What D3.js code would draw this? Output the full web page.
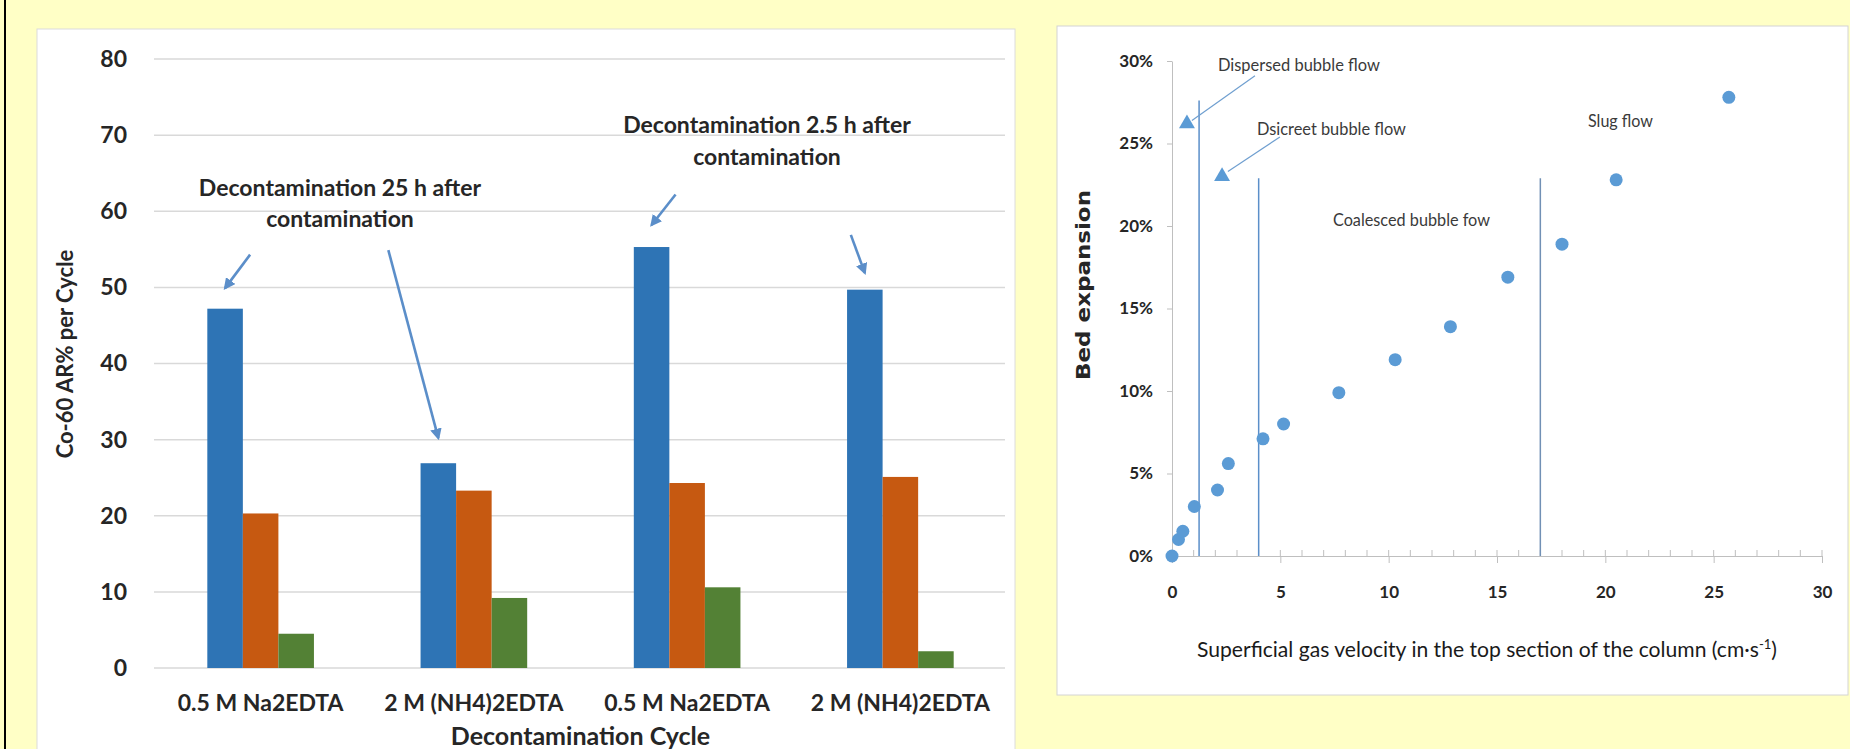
<!DOCTYPE html>
<html>
<head>
<meta charset="utf-8">
<script src="https://cdn.jsdelivr.net/npm/d3@7"></script>
<style>
  html, body { margin: 0; padding: 0; background: #ffffc6; }
  svg { display: block; }
</style>
</head>
<body>
<svg id="chart" width="1850" height="749"></svg>
<script>
// bar chart data
const categories = ["0.5 M Na2EDTA", "2 M (NH4)2EDTA", "0.5 M Na2EDTA", "2 M (NH4)2EDTA"];
const cycle1 = [47.2, 26.9, 55.3, 49.7];
const cycle2 = [20.3, 23.3, 24.3, 25.1];
const cycle3 = [4.5, 9.2, 10.6, 2.2];
const barTicks = [0, 10, 20, 30, 40, 50, 60, 70, 80];

// scatter data
const velocity = [0, 0.3, 0.5, 1.03, 2.1, 2.6, 4.2, 5.15, 7.7, 10.3, 12.85, 15.5, 18.0, 20.5, 25.7];
const expansion = [0, 0.010, 0.015, 0.030, 0.040, 0.056, 0.071, 0.080, 0.099, 0.119, 0.139, 0.169, 0.189, 0.228, 0.278];
const regimeBounds = [1.25, 4.0, 17.0];
const regimeTops = [0.276, 0.229, 0.229];
const xTicks = [0, 5, 10, 15, 20, 25, 30];
const yTicks = [0, 0.05, 0.10, 0.15, 0.20, 0.25, 0.30];

const BLUE = "#2e74b5";
const ORANGE = "#c65911";
const GREEN = "#538135";
const ARROW = "#5b8ec9";
const DOT = "#5b9bd5";
const BOLD_FONT = "Lato, 'Open Sans', sans-serif";

const svg = d3.select("#chart");

// backgrounds
svg.append("line")
  .attr("x1", 5).attr("x2", 5).attr("y1", 0).attr("y2", 749)
  .attr("stroke", "#000").attr("stroke-width", 2);

svg.append("rect")
  .attr("x", 37).attr("y", 29).attr("width", 978).attr("height", 740)
  .attr("fill", "#fff").attr("stroke", "#dcdcdc");

svg.append("rect")
  .attr("x", 1057).attr("y", 26).attr("width", 791).attr("height", 669)
  .attr("fill", "#fff").attr("stroke", "#d4d4d4");

svg.append("defs").append("marker")
  .attr("id", "arrowhead")
  .attr("viewBox", "0 0 10 10")
  .attr("refX", 8).attr("refY", 5)
  .attr("markerWidth", 4.5).attr("markerHeight", 4.5)
  .attr("orient", "auto")
  .append("path")
  .attr("d", "M0,0 L10,5 L0,10 z")
  .attr("fill", ARROW);

const renderBarChart = () => {
  const left = 154, right = 1007;
  const x0 = d3.scaleBand()
    .domain(d3.range(categories.length))
    .range([left, right])
    .paddingInner(0.5)
    .paddingOuter(0.25);
  const x1 = d3.scaleBand().domain([0, 1, 2]).range([0, x0.bandwidth()]);
  const y = d3.scaleLinear().domain([0, 80]).range([668, 59]);

  const g = svg.append("g");

  // grid
  g.selectAll(".grid")
    .data(barTicks)
    .join("line")
    .attr("x1", left).attr("x2", 1005)
    .attr("y1", (d) => y(d)).attr("y2", (d) => y(d))
    .attr("stroke", "#d9d9d9").attr("stroke-width", 1.5);

  const yAxis = g.append("g")
    .attr("transform", `translate(${left},0)`)
    .call(d3.axisLeft(y).tickValues(barTicks).tickSize(0).tickPadding(27));
  yAxis.select(".domain").remove();
  yAxis.selectAll("text")
    .attr("font-family", BOLD_FONT).attr("font-weight", "bold")
    .attr("font-size", 23).attr("fill", "#262626");

  const series = [cycle1, cycle2, cycle3];
  const colors = [BLUE, ORANGE, GREEN];

  const groups = g.selectAll(".grp")
    .data(categories)
    .join("g")
    .attr("transform", (d, i) => `translate(${x0(i)},0)`);

  groups.selectAll("rect")
    .data((d, i) => series.map((s, k) => ({ k, v: s[i] })))
    .join("rect")
    .attr("x", (d) => x1(d.k))
    .attr("width", x1.bandwidth())
    .attr("y", (d) => y(d.v))
    .attr("height", (d) => y(0) - y(d.v))
    .attr("fill", (d) => colors[d.k]);

  g.selectAll(".xlab")
    .data(categories)
    .join("text")
    .attr("x", (d, i) => x0(i) + x0.bandwidth() / 2)
    .attr("y", 703)
    .attr("dy", "0.35em")
    .attr("text-anchor", "middle")
    .attr("font-family", BOLD_FONT).attr("font-weight", "bold")
    .attr("font-size", 23).attr("fill", "#262626")
    .text((d) => d);

  g.append("text")
    .attr("x", (left + right) / 2)
    .attr("y", 736)
    .attr("dy", "0.35em")
    .attr("text-anchor", "middle")
    .attr("font-family", BOLD_FONT).attr("font-weight", "bold")
    .attr("font-size", 25).attr("fill", "#262626")
    .text("Decontamination Cycle");

  g.append("text")
    .attr("transform", "translate(65,354) rotate(-90)")
    .attr("dy", "0.35em")
    .attr("text-anchor", "middle")
    .attr("font-family", BOLD_FONT).attr("font-weight", "bold")
    .attr("font-size", 22).attr("fill", "#262626")
    .text("Co-60 AR% per Cycle");

  // annotations
  const notes = [
    { lines: ["Decontamination 25 h after", "contamination"], cx: 340, v: [63.1, 59.0] },
    { lines: ["Decontamination 2.5 h after", "contamination"], cx: 767, v: [71.4, 67.1] },
  ];
  notes.forEach((n) => {
    n.lines.forEach((t, j) => {
      g.append("text")
        .attr("x", n.cx).attr("y", y(n.v[j]))
        .attr("dy", "0.35em")
        .attr("text-anchor", "middle")
        .attr("font-family", BOLD_FONT).attr("font-weight", "bold")
        .attr("font-size", 23).attr("fill", "#262626")
        .text(t);
    });
  });

  const blueCenter = (i) => x0(i) + x1(0) + x1.bandwidth() / 2;
  const arrows = [
    { i: 0, dx: 25, from: 54.3, to: 49.9 },
    { i: 1, dx: -50, from: 54.9, to: 30.2 },
    { i: 2, dx: 24, from: 62.2, to: 58.2 },
    { i: 3, dx: -14, from: 56.9, to: 51.9 },
  ];
  g.selectAll(".arrow")
    .data(arrows)
    .join("line")
    .attr("x1", (d) => blueCenter(d.i) + d.dx)
    .attr("y1", (d) => y(d.from))
    .attr("x2", (d) => blueCenter(d.i))
    .attr("y2", (d) => y(d.to))
    .attr("stroke", ARROW).attr("stroke-width", 2.6)
    .attr("marker-end", "url(#arrowhead)");
};

const renderScatter = () => {
  const sx = d3.scaleLinear().domain([0, 30]).range([1172, 1822]);
  const sy = d3.scaleLinear().domain([0, 0.30]).range([556, 61]);
  const g = svg.append("g");
  const axisColor = "#bfbfbf";

  const yAxis = g.append("g")
    .attr("transform", `translate(${sx(0)},0)`)
    .call(d3.axisLeft(sy).tickValues(yTicks).tickFormat(d3.format(".0%"))
      .tickSize(5).tickSizeOuter(0).tickPadding(14));
  yAxis.selectAll("line, path").attr("stroke", axisColor);
  yAxis.selectAll("text")
    .attr("font-family", BOLD_FONT).attr("font-weight", "bold")
    .attr("font-size", 17).attr("fill", "#262626");

  // minor ticks above the axis
  g.selectAll(".minor")
    .data(d3.range(0, 31))
    .join("line")
    .attr("x1", (d) => sx(d)).attr("x2", (d) => sx(d))
    .attr("y1", sy(0) - 6).attr("y2", sy(0))
    .attr("stroke", axisColor);

  const xAxis = g.append("g")
    .attr("transform", `translate(0,${sy(0)})`)
    .call(d3.axisBottom(sx).tickValues(xTicks).tickSize(7).tickSizeOuter(0));
  xAxis.selectAll("line, path").attr("stroke", axisColor);
  xAxis.selectAll("text")
    .attr("y", 36).attr("dy", "0.35em")
    .attr("font-family", BOLD_FONT).attr("font-weight", "bold")
    .attr("font-size", 17).attr("fill", "#262626");

  // flow regime boundaries
  g.selectAll(".bound")
    .data(regimeBounds)
    .join("line")
    .attr("x1", (d) => sx(d)).attr("x2", (d) => sx(d))
    .attr("y1", sy(0)).attr("y2", (d, i) => sy(regimeTops[i]))
    .attr("stroke", (d, i) => (i === 2 ? "#7190b5" : "#5b8fc9"))
    .attr("stroke-width", 1.5);

  g.selectAll("circle")
    .data(velocity)
    .join("circle")
    .attr("cx", (d) => sx(d))
    .attr("cy", (d, i) => sy(expansion[i]))
    .attr("r", 6.5)
    .attr("fill", DOT);

  // regime labels
  const labels = [
    { t: "Dispersed bubble flow", x: 2.12, y: 0.2976, w: 162 },
    { t: "Dsicreet bubble flow", x: 3.92, y: 0.259, w: 149 },
    { t: "Coalesced bubble fow", x: 7.43, y: 0.204, w: 157 },
    { t: "Slug flow", x: 19.2, y: 0.264, w: 65 },
  ];
  g.selectAll(".reg")
    .data(labels)
    .join("text")
    .attr("x", (d) => sx(d.x))
    .attr("y", (d) => sy(d.y))
    .attr("dy", "0.35em")
    .attr("font-family", "Lato, sans-serif")
    .attr("font-size", 18)
    .attr("fill", "#3a3a3a")
    .attr("textLength", (d) => d.w)
    .attr("lengthAdjust", "spacingAndGlyphs")
    .text((d) => d.t);

  const pointers = [
    { x1: 3.83, y1: 0.291, x2: 0.92, y2: 0.264, tx: 0.69, ty: 0.262 },
    { x1: 4.98, y1: 0.254, x2: 2.58, y2: 0.233, tx: 2.31, ty: 0.230 },
  ];
  g.selectAll(".ptr")
    .data(pointers)
    .join("line")
    .attr("x1", (d) => sx(d.x1)).attr("y1", (d) => sy(d.y1))
    .attr("x2", (d) => sx(d.x2)).attr("y2", (d) => sy(d.y2))
    .attr("stroke", "#6f9fd0").attr("stroke-width", 1.2);
  g.selectAll(".tri")
    .data(pointers)
    .join("path")
    .attr("transform", (d) => `translate(${sx(d.tx)},${sy(d.ty)})`)
    .attr("d", d3.symbol(d3.symbolTriangle, 110))
    .attr("fill", DOT);

  g.append("text")
    .attr("transform", "translate(1083,285) rotate(-90)")
    .attr("dy", "0.35em")
    .attr("text-anchor", "middle")
    .attr("font-family", "'DejaVu Sans', sans-serif").attr("font-weight", "bold")
    .attr("font-size", 20).attr("fill", "#262626")
    .attr("textLength", 190)
    .attr("lengthAdjust", "spacingAndGlyphs")
    .text("Bed expansion");

  const title = g.append("text")
    .attr("x", 1197).attr("y", 650)
    .attr("dy", "0.35em")
    .attr("font-family", "Lato, sans-serif")
    .attr("font-size", 21).attr("fill", "#1a1a1a")
    .attr("textLength", 580)
    .attr("lengthAdjust", "spacingAndGlyphs");
  title.append("tspan").text("Superficial gas velocity in the top section of the column (cm·s");
  title.append("tspan").attr("baseline-shift", "super").attr("font-size", 13).text("-1");
  title.append("tspan").text(")");
};

renderBarChart();
renderScatter();
</script>
</body>
</html>
